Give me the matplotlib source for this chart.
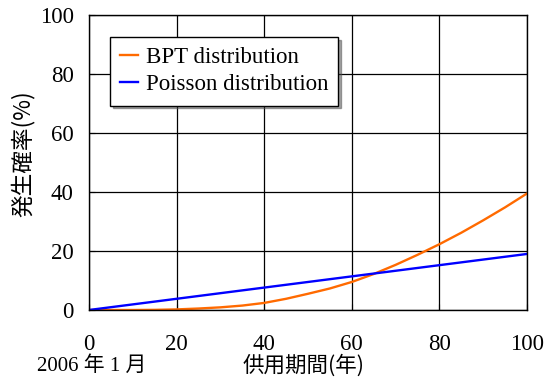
import matplotlib
matplotlib.use("Agg")
import matplotlib.pyplot as plt

# Données (années de service, probabilité en %)
annees = [0, 5, 10, 15, 20, 25, 30, 35, 40, 45, 50, 55, 60, 65, 70, 75, 80, 85, 90, 95, 100]
bpt = [0, 0, 0, 0.05, 0.2, 0.5, 0.9, 1.5, 2.4, 3.8, 5.5, 7.3, 9.5, 12.2, 15.3, 18.7, 22.3, 26.2, 30.4, 34.8, 39.5]
poisson_annees = [0, 100]
poisson = [0, 19.0]

xticks = [0, 20, 40, 60, 80, 100]
yticks = [0, 20, 40, 60, 80, 100]

serif = ["Liberation Serif", "Noto Sans CJK JP"]
jp = ["Noto Sans CJK JP", "Liberation Serif"]

fig = plt.figure(figsize=(5.5, 3.79), dpi=100)
ax = fig.add_axes([89 / 550, 69 / 379, 438 / 550, 295 / 379])

ax.plot(annees, bpt, color="#ff6a00", lw=1.7, label="BPT distribution")
ax.plot(poisson_annees, poisson, color="#0000ff", lw=1.7, label="Poisson distribution")

ax.set_xlim(0, 100)
ax.set_ylim(0, 100)
ax.set_xticks(xticks)
ax.set_yticks(yticks)
ax.grid(True, color="black", lw=0.9)
for s in ax.spines.values():
    s.set_color("black")
    s.set_linewidth(1.0)
ax.tick_params(direction="in", length=4, color="black")
ax.tick_params(axis="x", pad=17)
ax.tick_params(axis="y", pad=11)
for lab in ax.get_xticklabels() + ax.get_yticklabels():
    lab.set_family(serif)
    lab.set_fontsize(16.5)

ax.set_ylabel("発生確率(%)", family=jp, fontsize=16.3)
ax.yaxis.set_label_coords(-0.123, 0.53)
ax.text(0.49, -0.19, "供用期間(年)", transform=ax.transAxes, ha="center", va="center",
        family=jp, fontsize=15.5)
ax.text(0.005, -0.19, "2006 年 1 月", transform=ax.transAxes, ha="center", va="center",
        family=serif, fontsize=15)

leg = ax.legend(loc="upper left", bbox_to_anchor=(0.048, 0.925), prop={"family": serif, "size": 16.5},
                fancybox=False, shadow=True, framealpha=1, edgecolor="black",
                handlelength=0.75, handletextpad=0.35, borderpad=0.45, labelspacing=0.25,
                borderaxespad=0)
leg.get_frame().set_linewidth(1.0)

fig.savefig("out.png", dpi=100)
